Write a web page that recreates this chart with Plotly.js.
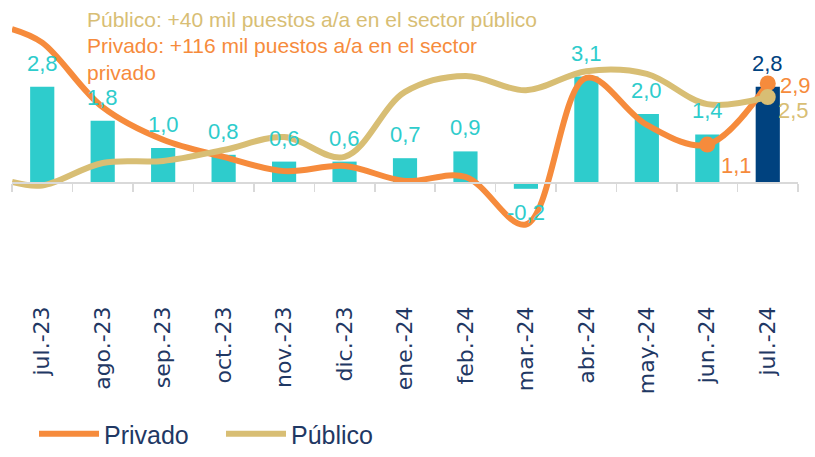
<!DOCTYPE html>
<html>
<head>
<meta charset="utf-8">
<script src="https://cdn.plot.ly/plotly-3.0.1.min.js"></script>
<style>
  html, body { margin: 0; padding: 0; background: #ffffff; }
  #chart { width: 815px; height: 457px; }
</style>
</head>
<body>
<div id="chart"></div>
<script>
// ---- Data ----
const categories = ['jul.-23','ago.-23','sep.-23','oct.-23','nov.-23','dic.-23','ene.-24','feb.-24','mar.-24','abr.-24','may.-24','jun.-24','jul.-24'];
const totalValues = [2.8, 1.8, 1.0, 0.8, 0.6, 0.6, 0.7, 0.9, -0.2, 3.1, 2.0, 1.4, 2.8];
const privadoValues = [4.1, 2.2, 1.24, 0.74, 0.32, 0.47, 0.03, 0.15, -1.25, 3.06, 1.68, 1.1, 2.9];
const publicoValues = [-0.1, 0.56, 0.62, 0.94, 1.32, 0.74, 2.65, 3.12, 2.7, 3.26, 3.18, 2.29, 2.5];
// value of each line where it enters the plot at the left edge
const privadoEdge = 4.5;
const publicoEdge = 0.0;
const seriesNames = ['Privado', 'Público'];
const noteTexts = ['Público: +40 mil puestos a/a en el sector público',
                   'Privado: +116 mil puestos a/a en el sector<br>privado'];

// ---- Styles ----
const TEAL = '#2ECCCC', NAVY = '#00427F', ORANGE = '#F68B3C', TAN = '#D8BE74', TEXT = '#1F3864';
const FONT = 'Liberation Sans, Arial, sans-serif';
const n = categories.length;
const idx = categories.map((_, i) => i);
const fmt = v => v.toFixed(1).replace('.', ',');

const lineX = [-0.5].concat(idx);

const traces = [
  {
    type: 'bar', x: idx, y: totalValues, width: 0.4,
    marker: { color: idx.map(i => i === n - 1 ? NAVY : TEAL) },
    showlegend: false, hoverinfo: 'skip', xaxis: 'x', yaxis: 'y'
  },
  {
    type: 'scatter', mode: 'lines', name: seriesNames[0],
    x: lineX, y: [privadoEdge].concat(privadoValues),
    line: { color: ORANGE, width: 6, shape: 'spline', smoothing: 1 },
    xaxis: 'x2', yaxis: 'y'
  },
  {
    type: 'scatter', mode: 'lines', name: seriesNames[1],
    x: lineX, y: [publicoEdge].concat(publicoValues),
    line: { color: TAN, width: 6, shape: 'spline', smoothing: 1 },
    xaxis: 'x2', yaxis: 'y'
  },
  {
    type: 'scatter', mode: 'markers', showlegend: false, hoverinfo: 'skip',
    x: [n - 2, n - 1], y: privadoValues.slice(n - 2),
    marker: { color: ORANGE, size: 16, line: { width: 0 } },
    xaxis: 'x2', yaxis: 'y', cliponaxis: false
  },
  {
    type: 'scatter', mode: 'markers', showlegend: false, hoverinfo: 'skip',
    x: [n - 1], y: publicoValues.slice(n - 1),
    marker: { color: TAN, size: 16, line: { width: 0 } },
    xaxis: 'x2', yaxis: 'y', cliponaxis: false
  }
];

const annotations = [];
// bar labels
totalValues.forEach((v, i) => {
  annotations.push({
    x: i, y: v, xref: 'x', yref: 'y', text: fmt(v), showarrow: false,
    xanchor: 'center', yanchor: v >= 0 ? 'bottom' : 'top', yshift: v >= 0 ? 9 : -9,
    font: { family: FONT, size: 22, color: i === n - 1 ? NAVY : TEAL }
  });
});
// line labels
annotations.push({ x: n - 2, y: privadoValues[n - 2], xref: 'x', yref: 'y', text: fmt(privadoValues[n - 2]),
  showarrow: false, xshift: 29, yshift: -21, font: { family: FONT, size: 22, color: ORANGE } });
annotations.push({ x: n - 1, y: privadoValues[n - 1], xref: 'x', yref: 'y', text: fmt(privadoValues[n - 1]),
  showarrow: false, xshift: 28, yshift: -2, font: { family: FONT, size: 22, color: ORANGE } });
annotations.push({ x: n - 1, y: publicoValues[n - 1], xref: 'x', yref: 'y', text: fmt(publicoValues[n - 1]),
  showarrow: false, xshift: 26, yshift: -13, font: { family: FONT, size: 22, color: TAN } });
// notes
annotations.push({ xref: 'paper', yref: 'paper', x: 0.0929, y: 1.022, xanchor: 'left', yanchor: 'top', align: 'left',
  text: noteTexts[0], showarrow: false, font: { family: FONT, size: 21, color: TAN } });
annotations.push({ xref: 'paper', yref: 'paper', x: 0.0929, y: 0.932, xanchor: 'left', yanchor: 'top', align: 'left',
  text: noteTexts[1], showarrow: false, font: { family: FONT, size: 21, color: ORANGE } });

const yMin = -3.5, yMax = 5;
const layout = {
  width: 815, height: 457,
  margin: { l: 12, r: 17, t: 12, b: 156, autoexpand: false },
  paper_bgcolor: '#ffffff', plot_bgcolor: '#ffffff',
  showlegend: true,
  legend: {
    orientation: 'h', x: 0.028, y: -0.5398, xanchor: 'left', yanchor: 'bottom',
    font: { family: FONT, size: 25, color: TEXT }, bgcolor: 'rgba(0,0,0,0)',
    itemwidth: 60, entrywidth: 112, entrywidthmode: 'pixels', tracegroupgap: 0
  },
  xaxis: {
    range: [-0.5, n - 0.5], tickmode: 'array', tickvals: idx, ticktext: categories,
    tickangle: -90, ticks: '', showline: false, showgrid: false, zeroline: false,
    automargin: false,
    tickfont: { family: 'DejaVu Sans, sans-serif', size: 22, color: TEXT }, fixedrange: true
  },
  xaxis2: {
    overlaying: 'x', anchor: 'free', position: (0 - yMin) / (yMax - yMin),
    range: [-0.5, n - 0.5], tickmode: 'array', tickvals: idx.map(i => i - 0.5).concat([n - 0.5]),
    ticks: 'outside', ticklen: 8, tickwidth: 1.5, tickcolor: '#D9D9D9',
    showline: true, linecolor: '#D9D9D9', linewidth: 1.5,
    showticklabels: false, showgrid: false, zeroline: false
  },
  yaxis: { range: [yMin, yMax], visible: false, fixedrange: true },
  annotations: annotations
};

Plotly.newPlot('chart', traces, layout, { displayModeBar: false, staticPlot: true });
</script>
</body>
</html>
